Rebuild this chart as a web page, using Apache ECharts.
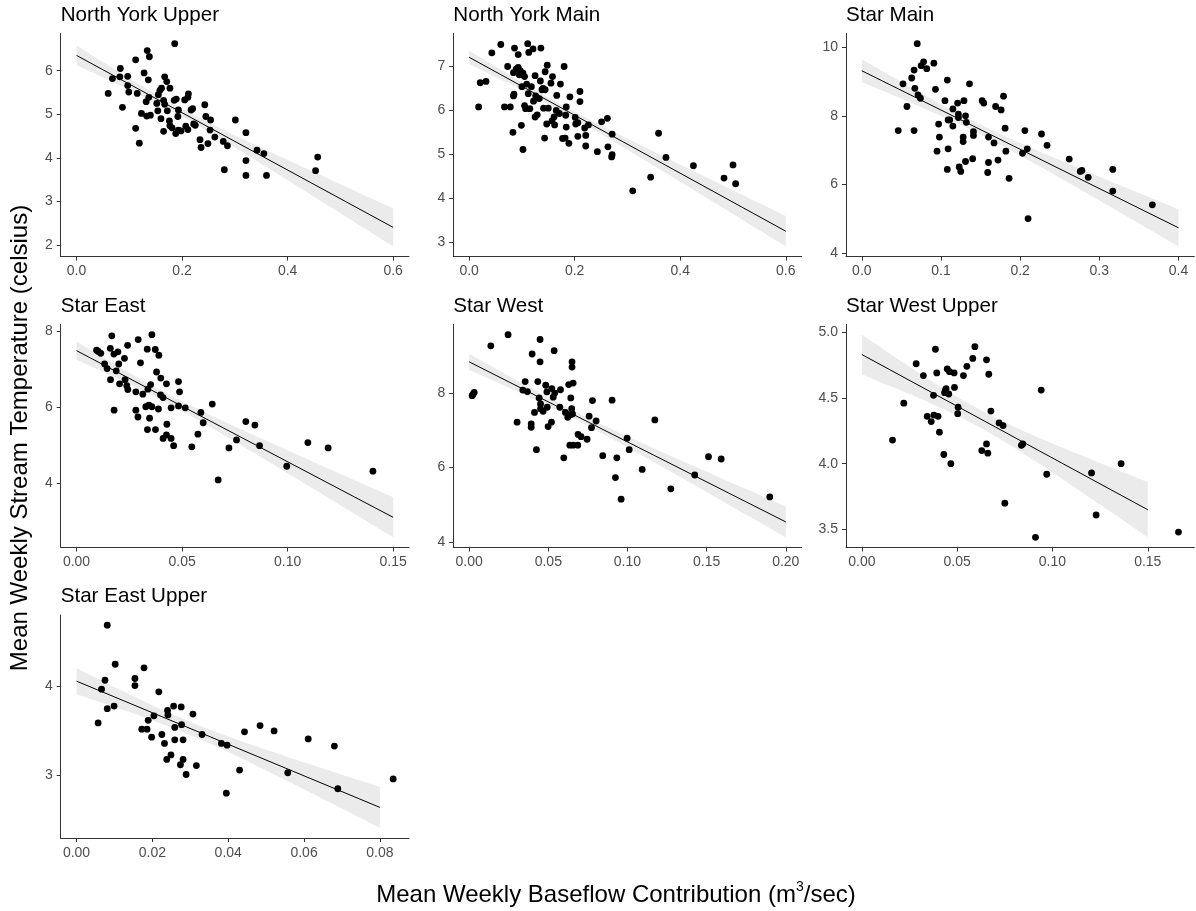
<!DOCTYPE html>
<html>
<head>
<meta charset="utf-8">
<script src="https://cdn.jsdelivr.net/npm/echarts@6/dist/echarts.min.js"></script>
<style>
  html, body { margin: 0; padding: 0; background: #ffffff; }
  #chart { width: 1196px; height: 911px; }
</style>
</head>
<body>
<div id="chart"></div>
<script>
// Weekly means per site: [baseflow contribution (m3/sec), stream temperature (celsius)]
const northYorkUpper = [[0.060,5.48],[0.068,5.82],[0.083,6.05],[0.082,5.86],[0.087,5.16],[0.097,5.87],[0.097,5.66],[0.099,5.51],[0.112,6.25],[0.115,5.48],[0.112,4.68],[0.119,4.34],[0.128,5.95],[0.134,6.46],[0.138,6.32],[0.136,5.79],[0.123,5.02],[0.132,5.29],[0.133,4.96],[0.140,4.98],[0.137,5.39],[0.152,5.25],[0.154,5.08],[0.155,5.45],[0.158,5.55],[0.161,5.60],[0.160,4.90],[0.165,5.32],[0.167,5.23],[0.167,5.86],[0.171,5.75],[0.165,4.61],[0.172,5.08],[0.176,4.85],[0.177,5.60],[0.177,4.74],[0.181,4.69],[0.185,5.32],[0.189,5.35],[0.186,6.62],[0.193,5.10],[0.192,4.95],[0.188,4.56],[0.193,4.64],[0.198,4.62],[0.205,5.33],[0.211,5.39],[0.212,5.47],[0.207,4.73],[0.211,4.65],[0.217,5.10],[0.220,5.13],[0.222,4.78],[0.225,4.75],[0.243,5.22],[0.245,4.95],[0.254,4.87],[0.253,4.64],[0.234,4.42],[0.236,4.24],[0.249,4.33],[0.262,4.48],[0.278,4.38],[0.286,4.28],[0.280,3.73],[0.301,4.87],[0.321,4.58],[0.321,3.94],[0.321,3.60],[0.342,4.18],[0.355,4.10],[0.360,3.60],[0.453,3.71],[0.457,4.02]];

const northYorkMain = [[0.018,6.08],[0.021,6.63],[0.032,6.66],[0.043,7.31],[0.060,7.50],[0.067,6.08],[0.078,6.08],[0.073,7.00],[0.083,5.50],[0.086,7.42],[0.093,7.27],[0.085,6.37],[0.084,6.33],[0.084,6.86],[0.089,6.94],[0.093,6.98],[0.097,6.90],[0.099,6.82],[0.095,6.81],[0.102,6.85],[0.105,6.77],[0.100,6.54],[0.109,6.60],[0.099,5.66],[0.102,5.11],[0.105,6.11],[0.107,6.04],[0.111,7.52],[0.113,7.32],[0.121,7.40],[0.112,6.38],[0.115,6.04],[0.118,6.54],[0.122,6.21],[0.125,6.79],[0.126,6.33],[0.125,5.85],[0.129,5.90],[0.133,6.27],[0.135,6.67],[0.136,7.42],[0.138,6.47],[0.140,6.50],[0.144,6.88],[0.144,6.47],[0.141,6.05],[0.148,7.03],[0.150,6.05],[0.147,5.69],[0.143,5.37],[0.158,6.77],[0.155,6.62],[0.157,5.76],[0.161,5.85],[0.162,5.67],[0.166,6.34],[0.165,6.00],[0.171,5.93],[0.173,6.60],[0.180,7.00],[0.177,5.36],[0.182,5.37],[0.183,5.89],[0.184,6.08],[0.184,5.62],[0.189,5.25],[0.191,6.31],[0.201,5.84],[0.202,5.69],[0.206,5.41],[0.210,6.43],[0.210,6.20],[0.206,5.72],[0.219,5.60],[0.221,5.43],[0.226,5.67],[0.221,5.19],[0.243,5.06],[0.251,5.74],[0.262,5.82],[0.263,5.17],[0.271,5.46],[0.270,4.94],[0.271,4.99],[0.310,4.17],[0.344,4.48],[0.359,5.48],[0.373,4.93],[0.425,4.74],[0.483,4.46],[0.500,4.76],[0.505,4.33]];

const starMain = [[0.046,7.57],[0.052,8.93],[0.057,8.27],[0.063,9.10],[0.066,9.33],[0.066,7.57],[0.067,8.80],[0.070,10.10],[0.071,8.61],[0.074,8.51],[0.075,9.46],[0.078,9.57],[0.082,9.37],[0.091,9.53],[0.093,8.77],[0.095,6.97],[0.097,7.76],[0.098,7.38],[0.105,8.44],[0.108,9.04],[0.109,7.88],[0.111,7.88],[0.109,7.04],[0.108,6.44],[0.115,8.20],[0.115,7.70],[0.121,8.37],[0.122,8.05],[0.122,7.95],[0.123,6.51],[0.125,6.38],[0.128,7.38],[0.128,7.25],[0.129,8.44],[0.131,8.00],[0.132,7.81],[0.131,6.67],[0.136,8.93],[0.140,6.75],[0.141,7.54],[0.141,7.43],[0.152,8.44],[0.154,8.37],[0.159,6.35],[0.160,6.64],[0.160,7.38],[0.167,7.21],[0.169,8.27],[0.172,6.71],[0.176,8.17],[0.179,8.57],[0.181,7.64],[0.182,6.97],[0.186,6.18],[0.203,6.91],[0.206,7.57],[0.209,7.04],[0.210,5.01],[0.227,7.47],[0.234,7.14],[0.262,6.74],[0.276,6.38],[0.278,6.41],[0.286,6.21],[0.317,6.44],[0.317,5.81],[0.367,5.41]];

const starEast = [[0.0095,7.49],[0.0103,7.46],[0.0115,7.41],[0.0133,7.13],[0.0145,7.01],[0.0161,6.72],[0.0160,7.54],[0.0167,7.87],[0.0177,7.39],[0.0178,5.92],[0.0196,7.45],[0.0200,7.13],[0.0188,6.95],[0.0204,6.61],[0.0227,7.28],[0.0242,7.62],[0.0230,6.72],[0.0238,6.56],[0.0243,6.46],[0.0281,6.40],[0.0281,5.92],[0.0291,5.74],[0.0292,7.77],[0.0303,7.16],[0.0314,6.34],[0.0328,6.01],[0.0335,7.52],[0.0338,6.47],[0.0336,5.41],[0.0343,6.05],[0.0351,6.59],[0.0346,5.71],[0.0357,7.90],[0.0357,6.01],[0.0373,7.51],[0.0379,6.92],[0.0374,5.41],[0.0390,7.36],[0.0388,5.95],[0.0399,6.76],[0.0398,6.32],[0.0410,6.25],[0.0426,6.61],[0.0428,5.55],[0.0426,5.27],[0.0410,5.18],[0.0448,5.18],[0.0448,5.98],[0.0460,4.99],[0.0483,6.67],[0.0488,6.40],[0.0483,6.03],[0.0515,5.98],[0.0546,4.96],[0.0575,5.29],[0.0589,5.86],[0.0600,5.59],[0.0643,6.08],[0.0671,4.09],[0.0722,4.93],[0.0758,5.14],[0.0802,5.62],[0.0845,5.53],[0.0867,4.99],[0.0996,4.45],[0.1096,5.07],[0.1192,4.93],[0.1404,4.32]];

const starWest = [[0.0019,7.93],[0.0025,7.97],[0.0032,8.02],[0.0137,9.27],[0.0246,9.57],[0.0303,7.22],[0.0339,8.08],[0.0354,8.31],[0.0368,8.04],[0.0392,7.17],[0.0392,7.08],[0.0398,9.05],[0.0413,7.48],[0.0425,6.48],[0.0434,8.31],[0.0442,7.87],[0.0448,9.44],[0.0448,8.84],[0.0451,7.71],[0.0451,7.58],[0.0467,7.51],[0.0484,8.21],[0.0491,8.03],[0.0493,7.62],[0.0499,7.10],[0.0520,7.22],[0.0522,8.12],[0.0531,7.89],[0.0537,9.14],[0.0541,8.00],[0.0577,8.09],[0.0573,7.62],[0.0598,6.26],[0.0608,7.48],[0.0623,7.35],[0.0629,8.23],[0.0636,6.60],[0.0642,7.87],[0.0640,7.42],[0.0648,7.58],[0.0650,8.84],[0.0650,8.70],[0.0653,7.44],[0.0657,8.27],[0.0657,6.60],[0.0686,6.60],[0.0688,6.89],[0.0707,6.83],[0.0745,6.76],[0.0758,7.38],[0.0773,7.07],[0.0779,7.80],[0.0802,7.25],[0.0844,6.32],[0.0903,7.81],[0.0924,5.73],[0.0933,6.26],[0.0960,5.15],[0.0998,6.79],[0.1011,6.48],[0.1093,5.95],[0.1173,7.28],[0.1274,5.43],[0.1425,5.80],[0.1512,6.29],[0.1592,6.23],[0.1899,5.21]];

const starWestUpper = [[0.0161,4.18],[0.0220,4.46],[0.0285,4.76],[0.0323,4.67],[0.0343,4.36],[0.0364,4.32],[0.0378,4.37],[0.0376,4.52],[0.0386,4.87],[0.0393,4.69],[0.0400,4.36],[0.0407,4.24],[0.0430,4.07],[0.0434,4.54],[0.0439,4.56],[0.0442,4.57],[0.0448,4.72],[0.0456,4.53],[0.0460,4.70],[0.0467,4.00],[0.0484,4.69],[0.0486,4.58],[0.0505,4.43],[0.0503,4.38],[0.0533,4.67],[0.0551,4.74],[0.0582,4.80],[0.0593,4.89],[0.0629,4.10],[0.0654,4.79],[0.0654,4.15],[0.0661,4.08],[0.0666,4.68],[0.0677,4.40],[0.0720,4.31],[0.0741,4.29],[0.0750,3.70],[0.0837,4.14],[0.0844,4.15],[0.0911,3.44],[0.0941,4.56],[0.0970,3.92],[0.1205,3.93],[0.1229,3.61],[0.1360,4.00],[0.1661,3.48]];

const starEastUpper = [[0.0057,3.59],[0.0066,3.97],[0.0075,4.07],[0.0081,4.69],[0.0081,3.75],[0.0099,3.78],[0.0102,4.25],[0.0154,4.09],[0.0154,4.01],[0.0178,4.21],[0.0172,3.52],[0.0186,3.52],[0.0189,3.62],[0.0198,3.43],[0.0204,3.67],[0.0217,3.94],[0.0225,3.46],[0.0232,3.36],[0.0238,3.18],[0.0240,3.73],[0.0241,3.68],[0.0249,3.23],[0.0256,3.78],[0.0259,3.54],[0.0259,3.40],[0.0274,3.12],[0.0276,3.77],[0.0277,3.57],[0.0281,3.40],[0.0281,3.18],[0.0289,3.01],[0.0307,3.69],[0.0316,3.11],[0.0331,3.46],[0.0382,3.36],[0.0397,3.34],[0.0395,2.80],[0.0430,3.06],[0.0443,3.49],[0.0484,3.56],[0.0521,3.50],[0.0557,3.03],[0.0611,3.41],[0.0680,3.33],[0.0689,2.85],[0.0835,2.96]];

// Panel titles, in facet order
const siteNames = ['North York Upper', 'North York Main', 'Star Main', 'Star East', 'Star West', 'Star West Upper', 'Star East Upper'];

// Trend line per panel: x extent and the fitted temperature at each end
const fitEnds = [0.6, 0.6, 0.4, 0.15, 0.2, 0.15, 0.08];
const fitAtZero = [6.35, 7.21, 9.31, 7.48, 8.84, 4.83, 4.06];
const fitAtEnd = [2.41, 3.25, 4.74, 3.11, 4.54, 3.65, 2.64];
// Half-width of the 95% band at the upper end of each trend line
const bandHalfAtEnd = [0.435, 0.345, 0.54, 0.525, 0.415, 0.21, 0.23];

// Tick values per panel
const xTicksNorthYork = [0, 0.2, 0.4, 0.6];
const xTicksStarMain = [0, 0.1, 0.2, 0.3, 0.4];
const xTicksStarEast = [0, 0.05, 0.10, 0.15];
const xTicksStarWest = [0, 0.05, 0.10, 0.15, 0.20];
const xTicksStarWestUpper = [0, 0.05, 0.10, 0.15];
const xTicksStarEastUpper = [0, 0.02, 0.04, 0.06, 0.08];
const yTicksNorthYorkUpper = [2, 3, 4, 5, 6];
const yTicksNorthYorkMain = [3, 4, 5, 6, 7];
const yTicksStarMain = [4, 6, 8, 10];
const yTicksStarEast = [4, 6, 8];
const yTicksStarWest = [4, 6, 8];
const yTicksStarWestUpper = [3.5, 4.0, 4.5, 5.0];
const yTicksStarEastUpper = [3, 4];

const panels = [
  { pts: northYorkUpper, xTicks: xTicksNorthYork,     yTicks: yTicksNorthYorkUpper, xDec: 1, yDec: 0 },
  { pts: northYorkMain,  xTicks: xTicksNorthYork,     yTicks: yTicksNorthYorkMain,  xDec: 1, yDec: 0 },
  { pts: starMain,       xTicks: xTicksStarMain,      yTicks: yTicksStarMain,       xDec: 1, yDec: 0 },
  { pts: starEast,       xTicks: xTicksStarEast,      yTicks: yTicksStarEast,       xDec: 2, yDec: 0 },
  { pts: starWest,       xTicks: xTicksStarWest,      yTicks: yTicksStarWest,       xDec: 2, yDec: 0 },
  { pts: starWestUpper,  xTicks: xTicksStarWestUpper, yTicks: yTicksStarWestUpper,  xDec: 2, yDec: 1 },
  { pts: starEastUpper,  xTicks: xTicksStarEastUpper, yTicks: yTicksStarEastUpper,  xDec: 2, yDec: 0 }
];

// Panel layout (pixels)
const COL_LEFT = [60.7, 453.3, 846];
const ROW_TOP = [33.5, 324.5, 615];
const PANEL_W = 348.3;
const PANEL_H = 223;
const FONT = "'Liberation Sans', Arial, Helvetica, sans-serif";

// Trend line between (0, y0) and (x1, y1) with a band whose width grows
// away from the mean of the observations (standard error of a fitted mean),
// scaled to the given half-width at x1
function trendBand(pts, x1, y0, y1, halfAtEnd) {
  const n = pts.length;
  let mx = 0;
  pts.forEach(p => { mx += p[0]; });
  mx /= n;
  let sxx = 0;
  pts.forEach(p => { sxx += (p[0] - mx) ** 2; });
  const shape = x => Math.sqrt(1 / n + (x - mx) ** 2 / sxx);
  const scale = halfAtEnd / shape(x1);
  const slope = (y1 - y0) / x1;
  const band = [];
  const steps = 80;
  for (let k = 0; k <= steps; k++) {
    const x = x1 * k / steps;
    const yh = y0 + slope * x;
    const h = scale * shape(x);
    band.push([x, yh, yh - h, yh + h]);
  }
  return band;
}

const grids = [], xAxes = [], yAxes = [], series = [], graphics = [];

panels.forEach((p, i) => {
  const col = i % 3, row = Math.floor(i / 3);
  const left = COL_LEFT[col], top = ROW_TOP[row];
  grids.push({ left: left, top: top, width: PANEL_W, height: PANEL_H, containLabel: false, outerBoundsMode: 'none' });

  const x1 = fitEnds[i], y0 = fitAtZero[i], y1 = fitAtEnd[i];
  const band = trendBand(p.pts, x1, y0, y1, bandHalfAtEnd[i]);
  const xs = p.pts.map(d => d[0]), ys = p.pts.map(d => d[1]);
  const xlo = Math.min(0, ...xs), xhi = Math.max(x1, ...xs);
  const ylo = Math.min(...ys, ...band.map(d => d[2]));
  const yhi = Math.max(...ys, ...band.map(d => d[3]));
  const xe = (xhi - xlo) * 0.05, ye = (yhi - ylo) * 0.05;

  const lineStyle = { color: '#333333', width: 1 };
  xAxes.push({
    type: 'value', gridIndex: i, min: xlo - xe, max: xhi + xe,
    splitLine: { show: false },
    axisLine: { show: true, onZero: false, lineStyle: lineStyle },
    axisTick: { show: true, length: 4, lineStyle: lineStyle, customValues: p.xTicks },
    axisLabel: {
      customValues: p.xTicks, margin: 8, color: '#4D4D4D', fontSize: 14, fontFamily: FONT,
      formatter: v => Number(v).toFixed(p.xDec)
    }
  });
  yAxes.push({
    type: 'value', gridIndex: i, min: ylo - ye, max: yhi + ye,
    splitLine: { show: false },
    axisLine: { show: true, onZero: false, lineStyle: lineStyle },
    axisTick: { show: true, length: 4, lineStyle: lineStyle, customValues: p.yTicks },
    axisLabel: {
      customValues: p.yTicks, margin: 8, color: '#4D4D4D', fontSize: 14, fontFamily: FONT,
      formatter: v => Number(v).toFixed(p.yDec)
    }
  });

  // confidence band
  series.push({
    type: 'custom', xAxisIndex: i, yAxisIndex: i, z: 1, silent: true,
    data: [[0, y0]],
    renderItem: (params, api) => {
      const upper = band.map(d => api.coord([d[0], d[3]]));
      const lower = band.slice().reverse().map(d => api.coord([d[0], d[2]]));
      return { type: 'polygon', shape: { points: upper.concat(lower) }, style: { fill: '#EBEBEB' } };
    }
  });
  // trend line
  series.push({
    type: 'line', xAxisIndex: i, yAxisIndex: i, z: 2, silent: true,
    symbol: 'none', lineStyle: { color: '#000000', width: 1 },
    data: [[0, y0], [x1, y1]]
  });
  // observations
  series.push({
    type: 'scatter', xAxisIndex: i, yAxisIndex: i, z: 3,
    symbol: 'circle', symbolSize: 6.8, itemStyle: { color: '#000000', opacity: 1 },
    data: p.pts
  });

  graphics.push({
    type: 'text', x: left, y: top - 18.5,
    style: { text: siteNames[i], font: '20.6px ' + FONT, fill: '#000000', align: 'left', verticalAlign: 'middle' }
  });
});

// Shared axis titles
graphics.push({
  type: 'text', x: 20, y: 438, rotation: Math.PI / 2,
  style: { text: 'Mean Weekly Stream Temperature (celsius)', font: '24px ' + FONT, fill: '#000000', align: 'center', verticalAlign: 'middle' }
});
graphics.push({
  type: 'text', x: 616, y: 895,
  style: {
    text: '{a|Mean Weekly Baseflow Contribution (m}{s|3}{a|/sec)}',
    align: 'center', verticalAlign: 'middle',
    rich: {
      a: { fontSize: 24, fontFamily: FONT, fill: '#000000', lineHeight: 30 },
      s: { fontSize: 14, fontFamily: FONT, fill: '#000000', verticalAlign: 'top', lineHeight: 16 }
    }
  }
});

const chart = echarts.init(document.getElementById('chart'), null, { renderer: 'canvas' });
chart.setOption({
  animation: false,
  backgroundColor: '#ffffff',
  grid: grids,
  xAxis: xAxes,
  yAxis: yAxes,
  series: series,
  graphic: graphics
});
</script>
</body>
</html>
